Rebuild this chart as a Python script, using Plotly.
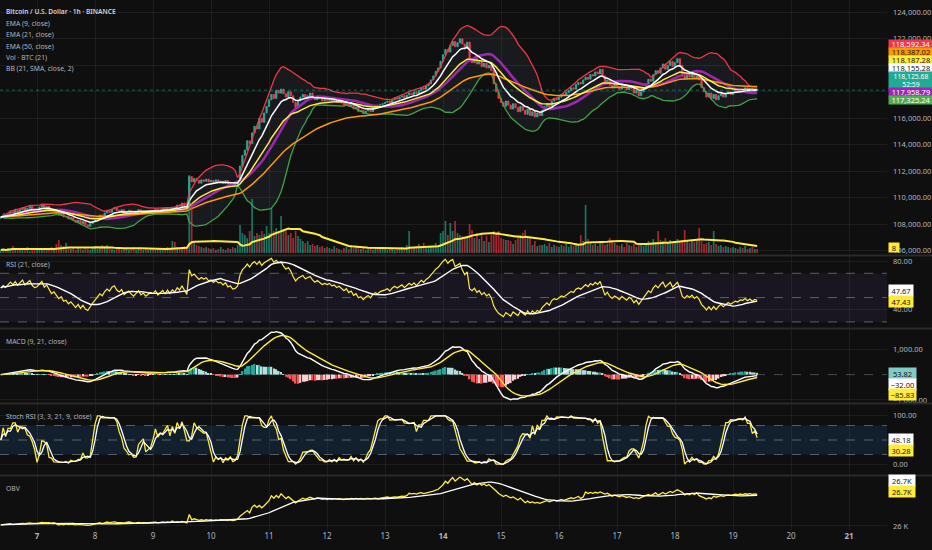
import numpy as np
import pandas as pd
import plotly.graph_objects as go

'''BTCUSD 1h chart with EMA / BB / volume and four indicator panes'''

FONT = "Noto Sans"

# hourly closes in thousands of USD, 2025-07-06 09:00 .. 2025-07-19 10:00
close_k = (
    # Jul 6 (from 09:00)
    [108.55, 108.70, 108.62, 108.80, 108.95, 108.85, 109.05, 108.90, 109.10, 109.25, 109.05, 109.20, 109.35, 109.15, 109.05]
    # Jul 7
    + [109.10, 109.30, 109.45, 109.20, 109.35, 109.15, 108.95, 109.05, 108.85, 108.70, 108.80, 108.55,
       108.60, 108.40, 108.50, 108.30, 108.15, 108.30, 108.05, 108.20, 107.95, 107.85, 108.05, 108.20]
    # Jul 8
    + [108.35, 108.50, 108.70, 108.60, 108.85, 109.00, 108.90, 109.15, 109.25, 109.05, 108.95, 109.10,
       108.85, 108.95, 109.05, 108.90, 108.80, 108.95, 109.10, 108.90, 109.00, 108.85, 108.95, 109.05]
    # Jul 9
    + [109.00, 109.15, 108.95, 109.10, 109.20, 109.05, 109.25, 109.10, 109.30, 109.20, 109.45, 109.35,
       109.60, 109.40, 109.20, 111.60, 111.20, 111.45, 111.30, 111.10, 111.35, 111.25, 111.40, 111.20]
    # Jul 10
    + [111.30, 111.15, 111.35, 111.20, 111.25, 111.10, 111.30, 111.05, 111.15, 110.95, 111.00, 111.20,
       112.40, 113.20, 113.60, 114.30, 114.10, 114.90, 115.40, 115.20, 116.00, 115.70, 116.40, 116.90]
    # Jul 11
    + [117.40, 117.80, 117.50, 118.10, 117.90, 118.20, 117.85, 117.60, 118.00, 117.70, 117.20, 116.80,
       117.30, 117.60, 117.80, 117.50, 117.70, 117.90, 117.60, 117.40, 117.65, 117.50, 117.30, 117.45]
    # Jul 12
    + [117.35, 117.50, 117.30, 117.40, 117.20, 117.35, 117.15, 117.00, 117.20, 116.90, 117.05, 116.70,
       116.85, 116.50, 116.60, 116.35, 116.55, 116.70, 116.50, 116.80, 116.95, 116.85, 117.05, 117.10]
    # Jul 13
    + [117.20, 117.30, 117.15, 117.40, 117.55, 117.45, 117.60, 117.70, 117.55, 117.75, 117.90, 117.80,
       118.00, 117.85, 118.10, 118.30, 118.20, 118.45, 118.60, 118.90, 119.20, 119.55, 119.80, 120.30]
    # Jul 14
    + [120.80, 121.20, 121.00, 121.50, 121.80, 121.40, 121.70, 122.00, 121.60, 121.30, 121.75, 120.40,
       120.20, 120.50, 120.10, 120.30, 119.90, 120.15, 119.80, 120.00, 119.60, 118.60, 118.00, 117.50]
    # Jul 15
    + [117.20, 116.90, 117.30, 117.00, 116.70, 117.10, 116.80, 116.50, 116.90, 116.60, 116.30, 116.70,
       116.20, 116.50, 116.10, 116.40, 116.20, 116.60, 116.90, 117.10, 116.80, 117.30, 117.50, 117.40]
    # Jul 16
    + [117.60, 117.80, 117.70, 117.95, 118.10, 118.30, 118.20, 118.55, 118.70, 118.60, 118.90, 119.10,
       118.95, 119.30, 119.20, 119.50, 119.35, 119.70, 119.20, 118.60, 118.90, 118.50, 118.30, 118.55]
    # Jul 17
    + [118.40, 118.20, 118.50, 118.30, 118.15, 118.40, 118.25, 117.90, 118.10, 117.70, 118.00, 118.30,
       118.60, 118.95, 118.80, 119.30, 119.60, 119.40, 119.80, 120.10, 119.70, 120.00, 120.30, 119.90]
    # Jul 18
    + [120.20, 120.50, 120.00, 119.20, 119.00, 119.30, 119.10, 119.35, 119.00, 119.20, 118.90, 118.30,
       118.00, 117.60, 117.90, 117.50, 117.80, 117.40, 117.70, 117.90, 117.60, 117.85, 118.00, 117.80]
    # Jul 19 (to 10:00)
    + [117.95, 118.10, 118.00, 118.20, 118.15, 118.30, 118.10, 118.25, 118.05, 118.20, 118.12568]
)
first_open_k = 108.45

# hourly volume, BTC
volume = (
    [6, 8, 4, 10, 6, 14, 8, 6, 10, 8, 6, 12, 4, 8, 6]
    + [8, 6, 10, 6, 8, 6, 12, 10, 18, 26, 16, 14, 20, 12, 8, 10, 6, 12, 8, 6, 10, 8, 6, 12]
    + [10, 8, 12, 16, 14, 16, 10, 8, 6, 10, 8, 6, 8, 10, 6, 8, 12, 6, 8, 10, 6, 8, 6, 10]
    + [8, 6, 10, 8, 6, 8, 12, 10, 24, 22, 12, 8, 10, 14, 12, 156, 100, 20, 16, 14, 12, 10, 12, 10]
    + [8, 10, 6, 8, 12, 8, 6, 10, 8, 12, 10, 16, 56, 40, 36, 30, 44, 108, 34, 40, 36, 44, 38, 54]
    + [40, 90, 44, 50, 40, 74, 48, 44, 36, 40, 30, 44, 34, 28, 24, 20, 24, 16, 18, 14, 16, 12, 14, 10]
    + [12, 10, 8, 14, 10, 8, 6, 10, 12, 8, 16, 10, 14, 12, 8, 10, 6, 8, 10, 6, 8, 12, 8, 10]
    + [8, 6, 10, 8, 6, 8, 10, 12, 8, 16, 44, 12, 10, 14, 18, 10, 20, 10, 12, 12, 14, 20, 14, 40]
    + [44, 64, 36, 60, 44, 64, 40, 36, 34, 30, 32, 58, 46, 30, 40, 28, 36, 24, 34, 22, 36, 44, 40, 44]
    + [30, 28, 26, 26, 24, 18, 26, 32, 36, 40, 46, 30, 30, 16, 24, 14, 16, 16, 18, 14, 20, 12, 16, 14]
    + [12, 16, 14, 18, 12, 16, 14, 20, 18, 36, 24, 96, 28, 20, 16, 18, 14, 20, 24, 16, 18, 30, 26, 20]
    + [16, 14, 18, 12, 20, 16, 14, 18, 12, 16, 20, 14, 18, 24, 20, 28, 22, 44, 26, 24, 30, 22, 26, 20]
    + [24, 28, 22, 26, 46, 24, 20, 26, 22, 28, 50, 24, 18, 20, 22, 16, 44, 18, 14, 16, 12, 14, 12, 10]
    + [12, 10, 8, 12, 10, 14, 8, 10, 12, 8, 8]
)
obv_start = 26020
rsi_start = 58  # RSI level at the left edge of the chart

legend_lines = ["Bitcoin / U.S. Dollar · 1h · BINANCE", "EMA (9, close)", "EMA (21, close)",
                "EMA (50, close)", "Vol · BTC (21)", "BB (21, SMA, close, 2)"]
pane_titles = ["RSI (21, close)", "MACD (9, 21, close)", "Stoch RSI (3, 3, 21, 9, close)", "OBV"]

# last-value tags on the price scale
price_tags = ["118,592.34", "118,387.02", "118,187.28", "118,155.28", "118,125.68<br>52:59",
              "117,958.79", "117,325.24"]
rsi_tags = ["47.67", "47.43"]
macd_tags = ["53.82", "−32.00", "−85.83"]
stoch_tags = ["48.18", "30.28"]
obv_tags = ["26.7K", "26.7K"]
vol_tag = "8"

# ---- series
t = pd.date_range("2025-07-06 09:00", periods=len(close_k), freq="h")
c = pd.Series(close_k) * 1000
o = c.shift(1).fillna(first_open_k * 1000)
hi = np.maximum(o, c)
lo = np.minimum(o, c)
vol = pd.Series(volume, dtype=float)

ema = lambda s, n: s.ewm(span=n, adjust=False).mean()
ema9, ema21, ema50 = ema(c, 9), ema(c, 21), ema(c, 50)
bb_mid = c.rolling(21, min_periods=2).mean()
bb_sd = c.rolling(21, min_periods=2).std(ddof=0)
bb_up, bb_lo = bb_mid + 2 * bb_sd, bb_mid - 2 * bb_sd
vol_ma = vol.rolling(21, min_periods=1).mean()

# Wilder RSI, seeded at the level seen on the left edge
d = c.diff().fillna(0).values
m = np.abs(d[1:22]).mean()
g_avg, l_avg = rsi_start / 100 * m, (1 - rsi_start / 100) * m
rsi_vals = []
for dv in d:
    g_avg = (g_avg * 20 + max(dv, 0)) / 21
    l_avg = (l_avg * 20 + max(-dv, 0)) / 21
    rsi_vals.append(100 - 100 / (1 + g_avg / l_avg))
rsi = pd.Series(rsi_vals)
rsi_ma = rsi.rolling(14, min_periods=1).mean()

macd = ema(c, 9) - ema(c, 21)
signal = ema(macd, 9)
hist = macd - signal
prev = hist.shift(1).fillna(0)
hist_col = np.where(hist >= 0, np.where(hist > prev, "#26a69a", "#b2dfdb"),
                    np.where(hist < prev, "#ff5252", "#ffcdd2"))

rlo = rsi.rolling(9, min_periods=1).min()
rhi = rsi.rolling(9, min_periods=1).max()
stoch = (100 * (rsi - rlo) / (rhi - rlo).replace(0, np.nan)).fillna(50)
k = stoch.rolling(3, min_periods=1).mean()
dline = k.rolling(3, min_periods=1).mean()

obv = obv_start + (np.sign(c.diff().fillna(0)) * vol).cumsum()
obv_ma = obv.rolling(21, min_periods=1).mean()

up = (c >= o).values
vol_col = np.where(up, "rgba(34,171,148,0.65)", "rgba(242,54,69,0.65)")

# ---- figure
PLOT_H = 530
py = lambda px: 1 - px / PLOT_H
BG = "#0f0f0f"
GRID = "rgba(255,255,255,0.06)"
TXT = "#b2b5be"

fig = go.Figure()

def line(y, color, width, ax="", **kw):
    fig.add_trace(go.Scatter(x=t, y=y, mode="lines", line=dict(color=color, width=width),
                             xaxis="x" + ax, yaxis="y" + ax, hoverinfo="skip", **kw))

# volume (overlay axis)
fig.add_trace(go.Bar(x=t, y=vol, marker=dict(color=vol_col, line_width=0), xaxis="x", yaxis="y6",
                     hoverinfo="skip"))
fig.add_trace(go.Scatter(x=t, y=vol_ma, mode="lines", line=dict(color="#ffeb3b", width=2),
                         xaxis="x", yaxis="y6", hoverinfo="skip"))

fig.add_trace(go.Candlestick(x=t, open=o, high=hi, low=lo, close=c, xaxis="x", yaxis="y",
                             increasing=dict(line=dict(color="#22ab94", width=1), fillcolor="#22ab94"),
                             decreasing=dict(line=dict(color="#f23645", width=1), fillcolor="#f23645"),
                             hoverinfo="skip"))
line(bb_up, "#f23645", 1.3)
line(bb_lo, "#43a047", 1.3, fill="tonexty", fillcolor="rgba(120,140,175,0.09)")
line(bb_mid, "#9c27b0", 2.6)
line(ema50, "#ff9800", 1.5)
line(ema21, "#ffeb3b", 1.5)
line(ema9, "#ffffff", 1.5)

# RSI
line(rsi, "#ffeb3b", 1.2, "2")
line(rsi_ma, "#ffffff", 1.4, "2")
# MACD
fig.add_trace(go.Bar(x=t, y=hist, marker=dict(color=hist_col, line_width=0), xaxis="x3", yaxis="y3",
                     hoverinfo="skip"))
line(macd, "#ffffff", 1.4, "3")
line(signal, "#ffeb3b", 1.4, "3")
# Stoch RSI
line(k, "#ffeb3b", 1.3, "4")
line(dline, "#ffffff", 1.3, "4")
# OBV
line(obv, "#ffeb3b", 1.3, "5")
line(obv_ma, "#ffffff", 1.3, "5")

days = pd.date_range("2025-07-07", "2025-07-21", freq="D")
day_text = [f"<b>{x.day}</b>" if x.day in (7, 14, 21) else str(x.day) for x in days]
x_range = ["2025-07-06 08:41", "2025-07-21 15:43"]

panes = {  # pixel top/bottom of each pane
    "": (0, 255), "2": (256, 328), "3": (329, 403), "4": (404, 475), "5": (476, 530)}

layout = dict(width=932, height=550, margin=dict(l=0, r=45, t=0, b=20), paper_bgcolor=BG,
              plot_bgcolor=BG, showlegend=False, bargap=0.3,
              font=dict(family=FONT, color=TXT, size=8))
for ax, (top, bot) in panes.items():
    xa = dict(domain=[0, 1], anchor="y" + ax, range=x_range, type="date", tickvals=days,
              ticktext=day_text, showgrid=True, gridcolor=GRID, gridwidth=1, zeroline=False,
              showticklabels=(ax == "5"), ticks="", showline=False,
              tickfont=dict(size=8, color=TXT, family=FONT))
    if ax:
        xa["matches"] = "x"
    else:
        xa["rangeslider"] = dict(visible=False)
    layout["xaxis" + ax] = xa
    layout["yaxis" + ax] = dict(domain=[py(bot), py(top)], anchor="x" + ax, side="right",
                                showgrid=True, gridcolor=GRID, zeroline=False, ticks="",
                                ticklabelstandoff=5, tickfont=dict(size=7.5, color=TXT, family=FONT))

layout["yaxis"].update(range=[105680, 124930], tickvals=list(range(106000, 126000, 2000)),
                       tickformat=",.2f")
layout["yaxis6"] = dict(overlaying="y", range=[-4, 506], visible=False, anchor="x")
layout["yaxis2"].update(range=[25, 84.2], tickvals=[40, 80], tickformat=".2f")
layout["yaxis3"].update(range=[-1120, 1800], tickvals=[-1000, 1000], tickformat=",.2f")
layout["yaxis4"].update(range=[-22.5, 124.6], tickvals=[0, 100], tickformat=".2f")
layout["yaxis5"].update(range=[25924, 26926], tickvals=[26000], ticktext=["26 K"])
fig.update_layout(**layout)

# current price line
fig.add_shape(type="line", xref="paper", yref="y", x0=0, x1=1, y0=c.iloc[-1], y1=c.iloc[-1],
              line=dict(color="rgba(34,171,148,0.55)", width=1, dash="dot"))

# bands and level lines
bands = [("y2", 30, 70, "rgba(126,87,194,0.10)", [70, 50, 30]),
         ("y4", 20, 80, "rgba(33,150,243,0.13)", [80, 50, 20])]
for yref, y0, y1, col, levels in bands:
    fig.add_shape(type="rect", xref="paper", yref=yref, x0=0, x1=1, y0=y0, y1=y1,
                  fillcolor=col, line_width=0, layer="below")
    for lv in levels:
        fig.add_shape(type="line", xref="paper", yref=yref, x0=0, x1=1, y0=lv, y1=lv,
                      line=dict(color="rgba(178,181,190,0.45)", width=1, dash="dash"))
fig.add_shape(type="line", xref="paper", yref="y3", x0=0, x1=1, y0=0, y1=0,
              line=dict(color="rgba(178,181,190,0.35)", width=1, dash="dash"))

# pane separators
for px in (255.5, 328.5, 403.5, 475.5):
    fig.add_shape(type="line", xref="paper", yref="paper", x0=0, x1=932 / 887, y0=py(px), y1=py(px),
                  line=dict(color="#2a2a2a", width=2))

# legend texts
for i, s in enumerate(legend_lines):
    fig.add_annotation(xref="paper", yref="paper", x=4 / 887, y=py(12 + 11.4 * i), text=s,
                       showarrow=False, xanchor="left", yanchor="middle",
                       font=dict(size=6.6 if i == 0 else 6.8, color="#d1d4dc" if i == 0 else TXT,
                                 family=FONT, weight=600 if i == 0 else 400))
for s, px in zip(pane_titles, (264, 341, 416, 488)):
    fig.add_annotation(xref="paper", yref="paper", x=4 / 887, y=py(px), text=s, showarrow=False,
                       xanchor="left", yanchor="middle", font=dict(size=6.8, color=TXT, family=FONT))


def tag(text, px, bg, fg, w, h, size=7.5):
    fig.add_annotation(xref="paper", yref="paper", x=1.0012, y=py(px), text=text, showarrow=False,
                       xanchor="left", yanchor="middle", bgcolor=bg, borderpad=0, align="center",
                       width=w, height=h, valign="middle", font=dict(size=size, color=fg, family=FONT))


price_style = [("#f23645", "#ffffff"), ("#ff9800", "#131313"), ("#ffeb3b", "#131313"),
               ("#ffffff", "#131313"), ("#22ab94", "#ffffff"), ("#9c27b0", "#ffffff"),
               ("#4caf50", "#ffffff")]
for s, px, (bg, fg) in zip(price_tags, (44, 52, 60, 68, 80.5, 92, 100), price_style):
    two = "<br>" in s
    tag(s, px, bg, fg, 44, 17 if two else 8, 6.8 if two else 7.5)
tag(vol_tag, 247.5, "#ffeb3b", "#131313", 10, 9)
for s, px, bg in zip(rsi_tags, (290, 301), ("#ffffff", "#ffeb3b")):
    tag(s, px, bg, "#131313", 24, 11)
for s, px, bg in zip(macd_tags, (373, 384, 395), ("#80cbc4", "#ffffff", "#ffeb3b")):
    tag(s, px, bg, "#131313", 27, 11)
for s, px, bg in zip(stoch_tags, (439, 450), ("#ffffff", "#ffeb3b")):
    tag(s, px, bg, "#131313", 24, 11)
for s, px, bg in zip(obv_tags, (480, 491), ("#ffffff", "#ffeb3b")):
    tag(s, px, bg, "#131313", 26, 11)

fig.write_html("out.html", post_script="document.body.style.margin='0';",
               config={"displayModeBar": False})
